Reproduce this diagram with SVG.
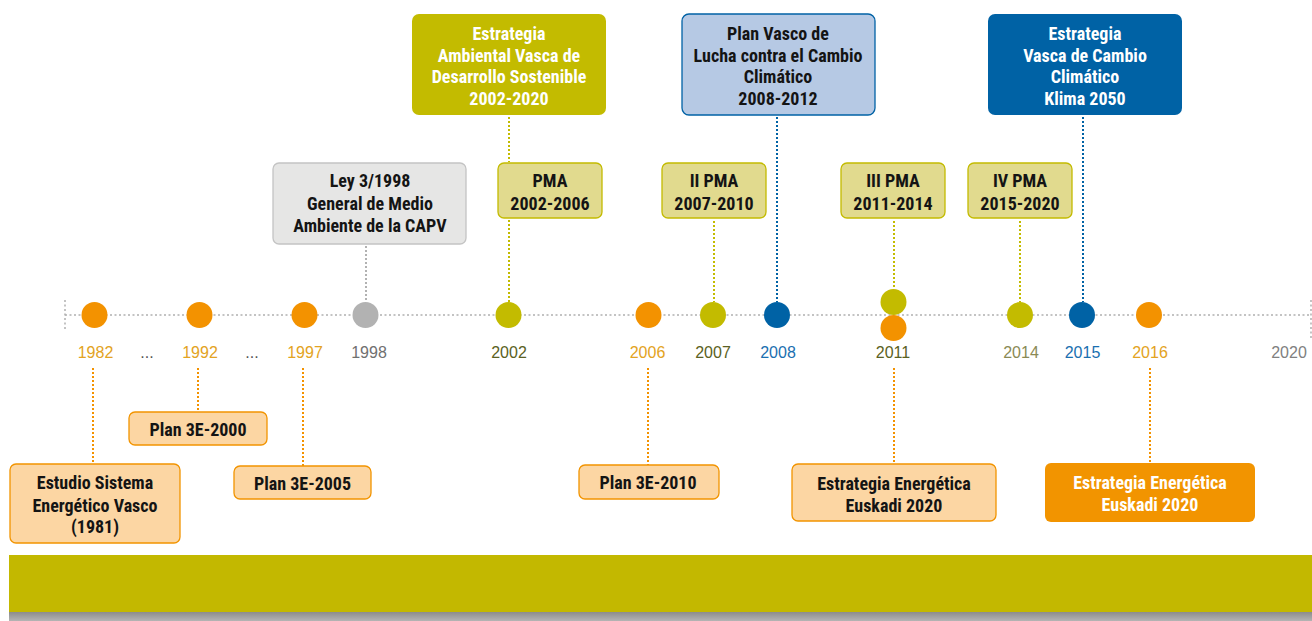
<svg xmlns="http://www.w3.org/2000/svg" width="1312" height="621" viewBox="0 0 1312 621">
  <defs>
    <linearGradient id="baseShade" x1="0" y1="0" x2="0" y2="1">
      <stop offset="0" stop-color="#8c8c8c"/>
      <stop offset="1" stop-color="#b4b4b4"/>
    </linearGradient>
  </defs>
  <style>
    .box text { font-family: "Liberation Sans Narrow", "Roboto Condensed", "DejaVu Sans Condensed", "Liberation Sans", sans-serif; font-weight: bold; font-size: 18px; text-anchor: middle; }
    .yr { font-family: "Liberation Sans", Arial, sans-serif; font-size: 16px; text-anchor: middle; }
    .olive rect { fill: #c3bb00; }
    .olive text { fill: #ffffff; }
    .pma rect { fill: #e1da8e; stroke: #c3bb00; stroke-width: 1.3; }
    .pma text, .law text, .lblue text, .energy text { fill: #141414; }
    .law rect { fill: #e6e6e5; stroke: #c4c4c4; stroke-width: 1.3; }
    .lblue rect { fill: #b6c9e4; stroke: #0062a5; stroke-width: 1.3; }
    .dblue rect { fill: #0062a5; }
    .dblue text { fill: #ffffff; }
    .energy rect { fill: #fcd6a3; stroke: #f29400; stroke-width: 1.3; }
    .energyDark rect { fill: #f29400; }
    .energyDark text { fill: #ffffff; }
    .dot { fill: none; stroke-width: 2; stroke-dasharray: 2 2; }
    .axis { fill: none; stroke: #b0b0b0; stroke-width: 1.5; stroke-dasharray: 2 2.5; }
    .c-or { fill: #f39200; }
    .c-ol { fill: #c3bb00; }
    .c-bl { fill: #0062a5; }
    .c-gr { fill: #b2b2b2; }
  </style>

  <!-- timeline axis -->
  <g id="axis">
    <line class="axis" x1="65" y1="315" x2="1311" y2="315"/>
    <line class="axis" x1="65" y1="300" x2="65" y2="331"/>
    <line class="axis" x1="1311" y1="300" x2="1311" y2="338"/>
  </g>

  <!-- connectors -->
  <g id="connectors">
    <line class="dot" stroke="#c3bb00" x1="509" y1="117" x2="509" y2="162"/>
    <line class="dot" stroke="#c3bb00" x1="509" y1="220" x2="509" y2="302"/>
    <line class="dot" stroke="#0062a5" x1="777" y1="117" x2="777" y2="302"/>
    <line class="dot" stroke="#0062a5" x1="1083" y1="117" x2="1083" y2="302"/>
    <line class="dot" stroke="#b2b2b2" x1="366" y1="246" x2="366" y2="302"/>
    <line class="dot" stroke="#c3bb00" x1="714" y1="221" x2="714" y2="302"/>
    <line class="dot" stroke="#c3bb00" x1="894" y1="221" x2="894" y2="289"/>
    <line class="dot" stroke="#c3bb00" x1="1020" y1="221" x2="1020" y2="302"/>
    <line class="dot" stroke="#f39200" x1="93" y1="368" x2="93" y2="464"/>
    <line class="dot" stroke="#f39200" x1="198" y1="368" x2="198" y2="412"/>
    <line class="dot" stroke="#f39200" x1="303" y1="368" x2="303" y2="466"/>
    <line class="dot" stroke="#f39200" x1="648" y1="368" x2="648" y2="465"/>
    <line class="dot" stroke="#f39200" x1="894" y1="368" x2="894" y2="464"/>
    <line class="dot" stroke="#f39200" x1="1150" y1="368" x2="1150" y2="463"/>
  </g>

  <!-- year markers -->
  <g id="markers">
    <circle class="c-or" cx="94.5" cy="315" r="13"/>
    <circle class="c-or" cx="199.5" cy="315" r="13"/>
    <circle class="c-or" cx="304.5" cy="315" r="13"/>
    <circle class="c-gr" cx="365.5" cy="315" r="13"/>
    <circle class="c-ol" cx="508.5" cy="315" r="13"/>
    <circle class="c-or" cx="648.5" cy="315" r="13"/>
    <circle class="c-ol" cx="713" cy="315" r="13"/>
    <circle class="c-bl" cx="777" cy="315" r="13"/>
    <circle class="c-ol" cx="893.5" cy="302" r="13"/>
    <circle class="c-or" cx="893.5" cy="328" r="13"/>
    <circle class="c-ol" cx="1020" cy="315" r="13"/>
    <circle class="c-bl" cx="1082" cy="315" r="13"/>
    <circle class="c-or" cx="1149" cy="315" r="13"/>
  </g>

  <!-- year labels -->
  <g id="years">
    <text class="yr" x="95.5" y="358" fill="#e3a322">1982</text>
    <text class="yr" x="147" y="358" fill="#555555">...</text>
    <text class="yr" x="200" y="358" fill="#e3a322">1992</text>
    <text class="yr" x="252" y="358" fill="#555555">...</text>
    <text class="yr" x="305" y="358" fill="#e3a322">1997</text>
    <text class="yr" x="369" y="358" fill="#707070">1998</text>
    <text class="yr" x="509" y="358" fill="#5a6122">2002</text>
    <text class="yr" x="647.5" y="358" fill="#e3a322">2006</text>
    <text class="yr" x="713" y="358" fill="#5a6122">2007</text>
    <text class="yr" x="778" y="358" fill="#1a6fb0">2008</text>
    <text class="yr" x="893" y="358" fill="#5a6122">2011</text>
    <text class="yr" x="1021" y="358" fill="#8a8a55">2014</text>
    <text class="yr" x="1082.5" y="358" fill="#1a6fb0">2015</text>
    <text class="yr" x="1150" y="358" fill="#e3a322">2016</text>
    <text class="yr" x="1289" y="358" fill="#808080">2020</text>
  </g>

  <!-- top plans -->
  <g id="eavds" class="box olive">
    <rect x="412" y="14" width="194" height="101" rx="7"/>
    <text x="509" y="39.5">Estrategia</text>
    <text x="509" y="61.5">Ambiental Vasca de</text>
    <text x="509" y="83">Desarrollo Sostenible</text>
    <text x="509" y="105">2002-2020</text>
  </g>
  <g id="pvlcc" class="box lblue">
    <rect x="682" y="14" width="193" height="101" rx="7"/>
    <text x="778" y="39.5">Plan Vasco de</text>
    <text x="778" y="61.5">Lucha contra el Cambio</text>
    <text x="778" y="83">Climático</text>
    <text x="778" y="105">2008-2012</text>
  </g>
  <g id="klima2050" class="box dblue">
    <rect x="988" y="14" width="194" height="101" rx="7"/>
    <text x="1085" y="39.5">Estrategia</text>
    <text x="1085" y="61.5">Vasca de Cambio</text>
    <text x="1085" y="83">Climático</text>
    <text x="1085" y="105">Klima 2050</text>
  </g>

  <!-- environmental programmes -->
  <g id="ley" class="box law">
    <rect x="273" y="163" width="193" height="81" rx="6"/>
    <text x="370" y="187">Ley 3/1998</text>
    <text x="370" y="209.5">General de Medio</text>
    <text x="370" y="232">Ambiente de la CAPV</text>
  </g>
  <g id="pma1" class="box pma">
    <rect x="498" y="163" width="104" height="55" rx="6"/>
    <text x="550" y="187">PMA</text>
    <text x="550" y="210">2002-2006</text>
  </g>
  <g id="pma2" class="box pma">
    <rect x="662" y="163" width="104" height="55" rx="6"/>
    <text x="714" y="187">II PMA</text>
    <text x="714" y="210">2007-2010</text>
  </g>
  <g id="pma3" class="box pma">
    <rect x="841" y="163" width="104" height="55" rx="6"/>
    <text x="893" y="187">III PMA</text>
    <text x="893" y="210">2011-2014</text>
  </g>
  <g id="pma4" class="box pma">
    <rect x="968" y="163" width="104" height="55" rx="6"/>
    <text x="1020" y="187">IV PMA</text>
    <text x="1020" y="210">2015-2020</text>
  </g>

  <!-- energy plans -->
  <g id="esev" class="box energy">
    <rect x="10" y="464" width="170" height="79" rx="6"/>
    <text x="95" y="489">Estudio Sistema</text>
    <text x="95" y="511.5">Energético Vasco</text>
    <text x="95" y="533">(1981)</text>
  </g>
  <g id="p3e2000" class="box energy">
    <rect x="129" y="412" width="138" height="33" rx="6"/>
    <text x="198" y="435.5">Plan 3E-2000</text>
  </g>
  <g id="p3e2005" class="box energy">
    <rect x="234" y="466" width="137" height="33" rx="6"/>
    <text x="302.5" y="489.5">Plan 3E-2005</text>
  </g>
  <g id="p3e2010" class="box energy">
    <rect x="579" y="465" width="140" height="34" rx="6"/>
    <text x="648" y="489">Plan 3E-2010</text>
  </g>
  <g id="ee2020" class="box energy">
    <rect x="792" y="464" width="204" height="57" rx="6"/>
    <text x="894" y="490">Estrategia Energética</text>
    <text x="894" y="512">Euskadi 2020</text>
  </g>
  <g id="ee2020b" class="box energyDark">
    <rect x="1045" y="463" width="210" height="59" rx="6"/>
    <text x="1150" y="489">Estrategia Energética</text>
    <text x="1150" y="511">Euskadi 2020</text>
  </g>

  <!-- base band -->
  <g id="band">
    <rect x="9" y="555" width="1303" height="57" fill="#c3b800"/>
    <rect x="9" y="612" width="1303" height="9" fill="url(#baseShade)"/>
  </g>
</svg>
